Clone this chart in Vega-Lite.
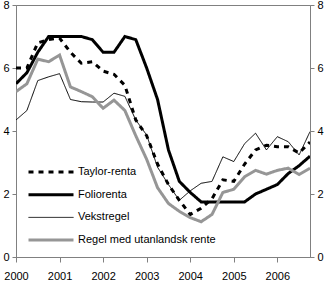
{
  "$schema": "https://vega.github.io/schema/vega-lite/v6.json",
  "width": 294,
  "height": 252,
  "autosize": {"type": "none"},
  "padding": {"left": 16, "top": 5, "right": 16, "bottom": 27},
  "background": "white",
  "config": {
    "view": {"stroke": "#808080", "strokeWidth": 1},
    "axis": {
      "grid": false,
      "domainColor": "#808080",
      "tickColor": "#808080",
      "labelFont": "Liberation Sans",
      "labelFontSize": 11,
      "labelColor": "#000000",
      "tickSize": 4
    },
    "legend": {
      "labelFont": "Liberation Sans",
      "labelFontSize": 11,
      "labelColor": "#000000"
    }
  },
  "data": {
    "values": [
      {"date": 2000, "series": "Taylor-renta", "value": 6.0},
      {"date": 2000.25, "series": "Taylor-renta", "value": 6.0},
      {"date": 2000.5, "series": "Taylor-renta", "value": 6.8},
      {"date": 2000.75, "series": "Taylor-renta", "value": 6.9},
      {"date": 2001, "series": "Taylor-renta", "value": 6.95},
      {"date": 2001.25, "series": "Taylor-renta", "value": 6.5},
      {"date": 2001.5, "series": "Taylor-renta", "value": 6.15},
      {"date": 2001.75, "series": "Taylor-renta", "value": 6.2},
      {"date": 2002, "series": "Taylor-renta", "value": 5.9},
      {"date": 2002.25, "series": "Taylor-renta", "value": 5.8},
      {"date": 2002.5, "series": "Taylor-renta", "value": 5.45},
      {"date": 2002.75, "series": "Taylor-renta", "value": 4.35},
      {"date": 2003, "series": "Taylor-renta", "value": 3.85},
      {"date": 2003.25, "series": "Taylor-renta", "value": 2.95},
      {"date": 2003.5, "series": "Taylor-renta", "value": 2.3},
      {"date": 2003.75, "series": "Taylor-renta", "value": 1.8},
      {"date": 2004, "series": "Taylor-renta", "value": 1.35},
      {"date": 2004.25, "series": "Taylor-renta", "value": 1.55},
      {"date": 2004.5, "series": "Taylor-renta", "value": 1.85},
      {"date": 2004.75, "series": "Taylor-renta", "value": 2.45},
      {"date": 2005, "series": "Taylor-renta", "value": 2.4},
      {"date": 2005.25, "series": "Taylor-renta", "value": 2.95},
      {"date": 2005.5, "series": "Taylor-renta", "value": 3.4},
      {"date": 2005.75, "series": "Taylor-renta", "value": 3.55},
      {"date": 2006, "series": "Taylor-renta", "value": 3.5},
      {"date": 2006.25, "series": "Taylor-renta", "value": 3.5},
      {"date": 2006.5, "series": "Taylor-renta", "value": 3.3},
      {"date": 2006.75, "series": "Taylor-renta", "value": 3.65},

      {"date": 2000, "series": "Foliorenta", "value": 5.5},
      {"date": 2000.25, "series": "Foliorenta", "value": 5.85},
      {"date": 2000.5, "series": "Foliorenta", "value": 6.5},
      {"date": 2000.75, "series": "Foliorenta", "value": 7.0},
      {"date": 2001, "series": "Foliorenta", "value": 7.0},
      {"date": 2001.25, "series": "Foliorenta", "value": 7.0},
      {"date": 2001.5, "series": "Foliorenta", "value": 7.0},
      {"date": 2001.75, "series": "Foliorenta", "value": 6.9},
      {"date": 2002, "series": "Foliorenta", "value": 6.5},
      {"date": 2002.25, "series": "Foliorenta", "value": 6.5},
      {"date": 2002.5, "series": "Foliorenta", "value": 7.0},
      {"date": 2002.75, "series": "Foliorenta", "value": 6.9},
      {"date": 2003, "series": "Foliorenta", "value": 6.0},
      {"date": 2003.25, "series": "Foliorenta", "value": 5.0},
      {"date": 2003.5, "series": "Foliorenta", "value": 3.4},
      {"date": 2003.75, "series": "Foliorenta", "value": 2.4},
      {"date": 2004, "series": "Foliorenta", "value": 2.05},
      {"date": 2004.25, "series": "Foliorenta", "value": 1.75},
      {"date": 2004.5, "series": "Foliorenta", "value": 1.75},
      {"date": 2004.75, "series": "Foliorenta", "value": 1.75},
      {"date": 2005, "series": "Foliorenta", "value": 1.75},
      {"date": 2005.25, "series": "Foliorenta", "value": 1.75},
      {"date": 2005.5, "series": "Foliorenta", "value": 2.0},
      {"date": 2005.75, "series": "Foliorenta", "value": 2.15},
      {"date": 2006, "series": "Foliorenta", "value": 2.3},
      {"date": 2006.25, "series": "Foliorenta", "value": 2.65},
      {"date": 2006.5, "series": "Foliorenta", "value": 2.9},
      {"date": 2006.75, "series": "Foliorenta", "value": 3.2},

      {"date": 2000, "series": "Vekstregel", "value": 4.35},
      {"date": 2000.25, "series": "Vekstregel", "value": 4.65},
      {"date": 2000.5, "series": "Vekstregel", "value": 5.6},
      {"date": 2000.75, "series": "Vekstregel", "value": 5.72},
      {"date": 2001, "series": "Vekstregel", "value": 5.82},
      {"date": 2001.25, "series": "Vekstregel", "value": 5.0},
      {"date": 2001.5, "series": "Vekstregel", "value": 4.93},
      {"date": 2001.75, "series": "Vekstregel", "value": 4.92},
      {"date": 2002, "series": "Vekstregel", "value": 4.92},
      {"date": 2002.25, "series": "Vekstregel", "value": 5.2},
      {"date": 2002.5, "series": "Vekstregel", "value": 5.1},
      {"date": 2002.75, "series": "Vekstregel", "value": 4.35},
      {"date": 2003, "series": "Vekstregel", "value": 3.87},
      {"date": 2003.25, "series": "Vekstregel", "value": 2.85},
      {"date": 2003.5, "series": "Vekstregel", "value": 2.3},
      {"date": 2003.75, "series": "Vekstregel", "value": 1.8},
      {"date": 2004, "series": "Vekstregel", "value": 2.1},
      {"date": 2004.25, "series": "Vekstregel", "value": 2.34},
      {"date": 2004.5, "series": "Vekstregel", "value": 2.4},
      {"date": 2004.75, "series": "Vekstregel", "value": 3.18},
      {"date": 2005, "series": "Vekstregel", "value": 3.03},
      {"date": 2005.25, "series": "Vekstregel", "value": 3.6},
      {"date": 2005.5, "series": "Vekstregel", "value": 3.93},
      {"date": 2005.75, "series": "Vekstregel", "value": 3.4},
      {"date": 2006, "series": "Vekstregel", "value": 3.82},
      {"date": 2006.25, "series": "Vekstregel", "value": 3.66},
      {"date": 2006.5, "series": "Vekstregel", "value": 3.24},
      {"date": 2006.75, "series": "Vekstregel", "value": 3.98},

      {"date": 2000, "series": "Regel med utanlandsk rente", "value": 5.25},
      {"date": 2000.25, "series": "Regel med utanlandsk rente", "value": 5.5},
      {"date": 2000.5, "series": "Regel med utanlandsk rente", "value": 6.28},
      {"date": 2000.75, "series": "Regel med utanlandsk rente", "value": 6.2},
      {"date": 2001, "series": "Regel med utanlandsk rente", "value": 6.41},
      {"date": 2001.25, "series": "Regel med utanlandsk rente", "value": 5.4},
      {"date": 2001.5, "series": "Regel med utanlandsk rente", "value": 5.25},
      {"date": 2001.75, "series": "Regel med utanlandsk rente", "value": 5.09},
      {"date": 2002, "series": "Regel med utanlandsk rente", "value": 4.72},
      {"date": 2002.25, "series": "Regel med utanlandsk rente", "value": 4.98},
      {"date": 2002.5, "series": "Regel med utanlandsk rente", "value": 4.65},
      {"date": 2002.75, "series": "Regel med utanlandsk rente", "value": 3.85},
      {"date": 2003, "series": "Regel med utanlandsk rente", "value": 3.1},
      {"date": 2003.25, "series": "Regel med utanlandsk rente", "value": 2.2},
      {"date": 2003.5, "series": "Regel med utanlandsk rente", "value": 1.7},
      {"date": 2003.75, "series": "Regel med utanlandsk rente", "value": 1.45},
      {"date": 2004, "series": "Regel med utanlandsk rente", "value": 1.25},
      {"date": 2004.25, "series": "Regel med utanlandsk rente", "value": 1.12},
      {"date": 2004.5, "series": "Regel med utanlandsk rente", "value": 1.35},
      {"date": 2004.75, "series": "Regel med utanlandsk rente", "value": 2.05},
      {"date": 2005, "series": "Regel med utanlandsk rente", "value": 2.15},
      {"date": 2005.25, "series": "Regel med utanlandsk rente", "value": 2.55},
      {"date": 2005.5, "series": "Regel med utanlandsk rente", "value": 2.75},
      {"date": 2005.75, "series": "Regel med utanlandsk rente", "value": 2.63},
      {"date": 2006, "series": "Regel med utanlandsk rente", "value": 2.75},
      {"date": 2006.25, "series": "Regel med utanlandsk rente", "value": 2.82},
      {"date": 2006.5, "series": "Regel med utanlandsk rente", "value": 2.62},
      {"date": 2006.75, "series": "Regel med utanlandsk rente", "value": 2.82}
    ]
  },
  "layer": [
    {
      "mark": {"type": "line", "clip": true},
      "encoding": {
        "x": {
          "field": "date",
          "type": "quantitative",
          "scale": {"domain": [2000, 2006.75], "nice": false, "zero": false},
          "axis": {
            "title": null,
            "values": [2000, 2001, 2002, 2003, 2004, 2005, 2006],
            "format": "d",
            "tickSize": 5,
            "labelPadding": 8,
            "labelFlush": false,
            "labelOverlap": false
          }
        },
        "y": {
          "field": "value",
          "type": "quantitative",
          "scale": {"domain": [0, 8], "nice": false},
          "axis": {
            "title": null,
            "orient": "left",
            "values": [0, 2, 4, 6, 8],
            "labelPadding": 3,
            "tickSize": 4
          }
        },
        "color": {
          "field": "series",
          "type": "nominal",
          "scale": {
            "domain": ["Taylor-renta", "Foliorenta", "Vekstregel", "Regel med utanlandsk rente"],
            "range": ["#000000", "#000000", "#000000", "#969696"]
          },
          "legend": {
            "title": null,
            "orient": "none",
            "legendX": 11,
            "legendY": 161,
            "symbolType": "stroke",
            "symbolSize": 2025,
            "clipHeight": 12,
            "rowPadding": 10.7,
            "labelOffset": 3,
            "padding": 0
          }
        },
        "strokeDash": {
          "field": "series",
          "type": "nominal",
          "scale": {
            "domain": ["Taylor-renta", "Foliorenta", "Vekstregel", "Regel med utanlandsk rente"],
            "range": [[5, 5], [1, 0], [1, 0], [1, 0]]
          }
        },
        "strokeWidth": {
          "field": "series",
          "type": "nominal",
          "scale": {
            "type": "ordinal",
            "domain": ["Taylor-renta", "Foliorenta", "Vekstregel", "Regel med utanlandsk rente"],
            "range": [3, 3, 1, 3]
          }
        }
      }
    },
    {
      "mark": {"type": "line", "opacity": 0},
      "encoding": {
        "x": {
          "field": "date",
          "type": "quantitative",
          "axis": {
            "title": null,
            "values": [2000, 2001, 2002, 2003, 2004, 2005, 2006],
            "format": "d",
            "tickSize": 5,
            "labelPadding": 8,
            "labelFlush": false,
            "labelOverlap": false
          }
        },
        "y": {
          "field": "value",
          "type": "quantitative",
          "axis": {
            "title": null,
            "orient": "right",
            "values": [0, 2, 4, 6, 8],
            "labelPadding": 3,
            "tickSize": 4
          }
        }
      }
    }
  ],
  "resolve": {"axis": {"y": "independent"}}
}
